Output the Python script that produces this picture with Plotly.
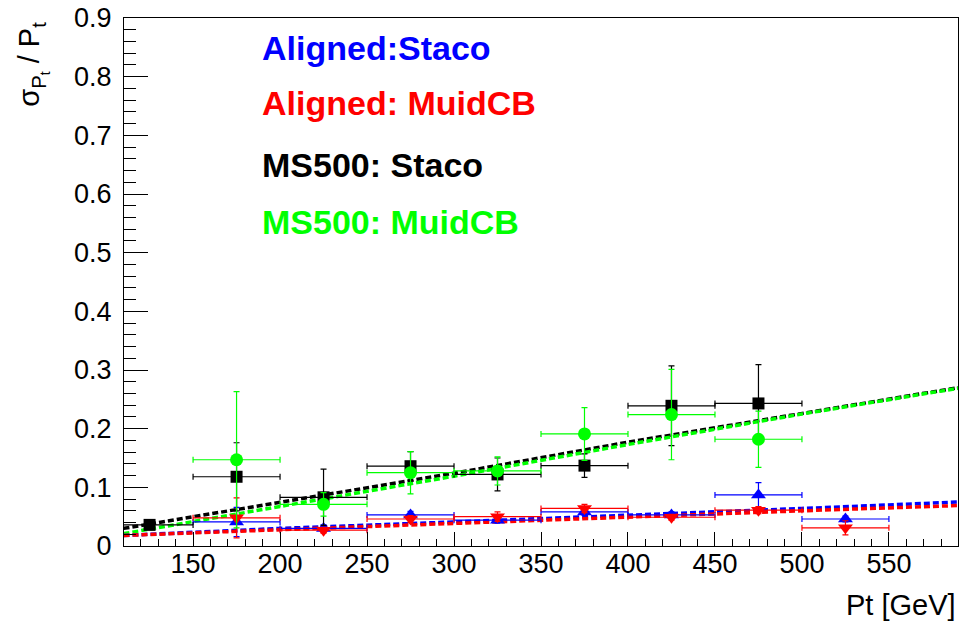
import plotly.graph_objects as go

# ---- data ----
bin_half_width = 25

black_x = [125, 175, 225, 275, 325, 375, 425, 475]
black_y = [0.036, 0.118, 0.083, 0.136, 0.122, 0.137, 0.239, 0.243]
black_ey = [0.006, 0.058, 0.048, 0.025, 0.028, 0.020, 0.068, 0.066]

green_x = [175, 225, 275, 325, 375, 425, 475]
green_y = [0.147, 0.071, 0.125, 0.128, 0.191, 0.224, 0.182]
green_ey = [0.116, 0.020, 0.036, 0.024, 0.045, 0.077, 0.048]

blue_x = [175, 225, 275, 325, 375, 425, 475, 525]
blue_y = [0.041, 0.030, 0.053, 0.044, 0.058, 0.053, 0.087, 0.046]
blue_ey = [0.025, 0.006, 0.006, 0.005, 0.006, 0.005, 0.021, 0.005]

red_x = [175, 225, 275, 325, 375, 425, 475, 525]
red_y = [0.048, 0.027, 0.046, 0.050, 0.064, 0.049, 0.061, 0.031]
red_ey = [0.034, 0.005, 0.006, 0.008, 0.007, 0.005, 0.006, 0.012]

fit_x = [110, 200, 300, 400, 500, 590]
fit_black = [0.030, 0.075, 0.124, 0.177, 0.226, 0.270]
fit_green = [0.021, 0.067, 0.119, 0.173, 0.225, 0.269]
fit_blue = [0.018, 0.030, 0.041, 0.052, 0.064, 0.075]
fit_red = [0.018, 0.028, 0.039, 0.050, 0.060, 0.069]

x_ticks = [150, 200, 250, 300, 350, 400, 450, 500, 550]
y_ticks = [0, 0.1, 0.2, 0.3, 0.4, 0.5, 0.6, 0.7, 0.8, 0.9]

labels = ["Aligned:Staco", "Aligned: MuidCB", "MS500: Staco", "MS500: MuidCB"]

BLUE, RED, BLACK, GREEN = "#0000ff", "#ff0000", "#000000", "#00ff00"

fig = go.Figure()

# fit lines
for fy, col in [(fit_black, BLACK), (fit_green, GREEN), (fit_blue, BLUE), (fit_red, RED)]:
    fig.add_trace(go.Scatter(x=fit_x, y=fy, mode="lines",
                             line=dict(color=col, width=3.5, dash="6px,3px"),
                             hoverinfo="skip"))

def add_points(xs, ys, eys, col, sym, size):
    fig.add_trace(go.Scatter(
        x=xs, y=ys, mode="markers",
        marker=dict(color=col, symbol=sym, size=size, line=dict(width=0)),
        error_x=dict(type="constant", value=bin_half_width, color=col, thickness=1.2, width=3),
        error_y=dict(type="data", array=eys, color=col, thickness=1.2, width=3),
    ))

add_points(blue_x, blue_y, blue_ey, BLUE, "triangle-up", 13)
add_points(red_x, red_y, red_ey, RED, "triangle-down", 13)
add_points(black_x, black_y, black_ey, BLACK, "square", 12)
add_points(green_x, green_y, green_ey, GREEN, "circle", 13)

label_colors = [BLUE, RED, BLACK, GREEN]
label_ypos = [0.943, 0.839, 0.7216, 0.6136]
annotations = []
for t, c, yp in zip(labels, label_colors, label_ypos):
    annotations.append(dict(text=t, x=0.163, y=yp, xref="paper", yref="paper",
                            xanchor="left", yanchor="middle", showarrow=False,
                            font=dict(family="Liberation Sans", size=34, color=c, weight="bold")))

annotations.append(dict(text="σ<sub>P<sub>t</sub></sub> / P<sub>t</sub>", textangle=-90,
                        x=-0.109, y=0.996, xref="paper", yref="paper",
                        xanchor="center", yanchor="top", showarrow=False,
                        font=dict(family="Liberation Sans", size=29, color="black")))
annotations.append(dict(text="Pt [GeV]", x=1.0, y=-0.112, xref="paper", yref="paper",
                        xanchor="right", yanchor="middle", showarrow=False,
                        font=dict(family="Liberation Sans", size=29, color="black")))

fig.update_layout(
    width=977, height=621,
    margin=dict(l=124, r=19, t=18, b=75, autoexpand=False),
    paper_bgcolor="white", plot_bgcolor="white",
    showlegend=False, hovermode=False,
    annotations=annotations,
    xaxis=dict(range=[110.3, 589.7], tickvals=x_ticks, ticks="inside", ticklen=14,
               tickcolor="black", tickwidth=1, automargin=False,
               minor=dict(dtick=10, tick0=110, ticks="inside", ticklen=7, tickcolor="black", tickwidth=1),
               showgrid=False, zeroline=False, showline=True, linecolor="black", linewidth=1,
               mirror=True, ticklabelstandoff=-6,
               tickfont=dict(family="Liberation Sans", size=27, color="black")),
    yaxis=dict(range=[0, 0.9], tickvals=y_ticks, ticktext=[("0" if v == 0 else f"{v:.1f}") for v in y_ticks],
               ticks="inside", ticklen=24, tickcolor="black", tickwidth=1, automargin=False,
               minor=dict(dtick=0.02, tick0=0, ticks="inside", ticklen=12, tickcolor="black", tickwidth=1),
               showgrid=False, zeroline=False, showline=True, linecolor="black", linewidth=1,
               mirror=True, ticklabelstandoff=6,
               tickfont=dict(family="Liberation Sans", size=27, color="black")),
)

fig.write_html("out.html", config={"displayModeBar": False},
               post_script="document.body.style.margin='0';document.body.style.overflow='hidden';")
